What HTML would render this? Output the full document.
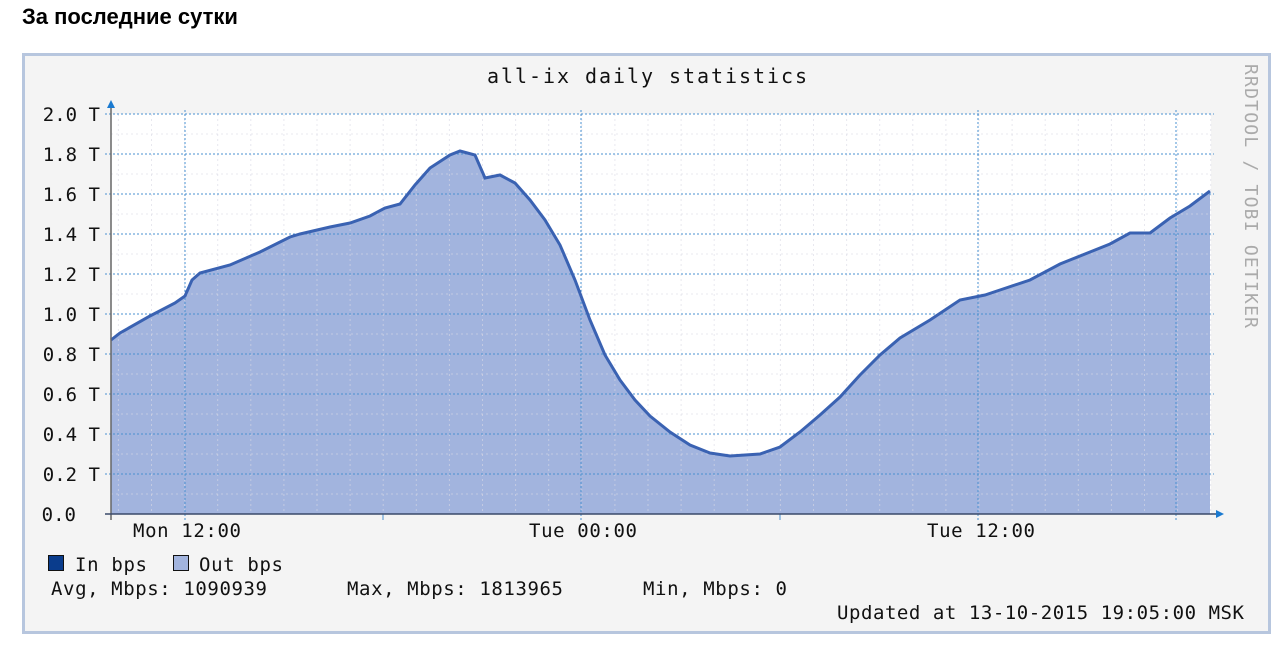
<!DOCTYPE html>
<html><head><meta charset="utf-8"><style>
body{margin:0;background:#fff;width:1288px;height:654px;overflow:hidden}
h1{position:absolute;left:22px;top:4px;margin:0;font:bold 22px "Liberation Sans","Noto Sans CJK SC",sans-serif;color:#000}
svg{position:absolute;left:0;top:0}
text{font-family:"DejaVu Sans Mono","Liberation Mono",monospace;font-size:19px;fill:#111}
</style></head><body>
<h1>За последние сутки</h1>
<svg width="1288" height="654" xmlns="http://www.w3.org/2000/svg">
<rect x="23.5" y="54.5" width="1246" height="578" fill="#f4f4f4" stroke="#b7c6de" stroke-width="3"/>
<rect x="111" y="114" width="1100" height="400" fill="#fff"/>
<polygon fill="#a2b4de" points="111,514 111,340 120,333 150,316 175,303 185,296 192,280 200,273 230,265 260,252 290,237 300,234 330,227 350,223 370,216 385,208 400,204 415,185 430,168 450,155 460,151 475,155 485,178 500,175 515,183 530,200 545,220 560,245 575,280 590,320 605,355 620,380 635,400 650,416 670,432 690,445 710,453 730,456 760,454 780,447 800,432 820,415 840,397 860,375 880,355 900,338 930,320 960,300 985,295 1000,290 1030,280 1060,264 1090,252 1110,244 1130,233 1150,233 1170,218 1190,206 1210,191 1210,514"/>
<g id="grid2"></g>
<polyline fill="none" stroke="#3a62b2" stroke-width="3" points="111,340 120,333 150,316 175,303 185,296 192,280 200,273 230,265 260,252 290,237 300,234 330,227 350,223 370,216 385,208 400,204 415,185 430,168 450,155 460,151 475,155 485,178 500,175 515,183 530,200 545,220 560,245 575,280 590,320 605,355 620,380 635,400 650,416 670,432 690,445 710,453 730,456 760,454 780,447 800,432 820,415 840,397 860,375 880,355 900,338 930,320 960,300 985,295 1000,290 1030,280 1060,264 1090,252 1110,244 1130,233 1150,233 1170,218 1190,206 1210,191"/>
<line x1="111" y1="108" x2="111" y2="520" stroke="#666" stroke-width="1.5"/>
<line x1="105" y1="514" x2="1216" y2="514" stroke="#3a4a6a" stroke-width="1.5"/>
<polygon points="107,108 115,108 111,100" fill="#1a7ad0"/>
<polygon points="1216,510 1216,518 1224,514" fill="#1a7ad0"/>
<text x="647" y="83" text-anchor="middle" textLength="320" style="font-size:20px">all-ix daily statistics</text>
<g text-anchor="end">
<text x="100" y="121">2.0 T</text><text x="100" y="161">1.8 T</text><text x="100" y="201">1.6 T</text><text x="100" y="241">1.4 T</text><text x="100" y="281">1.2 T</text><text x="100" y="321">1.0 T</text><text x="100" y="361">0.8 T</text><text x="100" y="401">0.6 T</text><text x="100" y="441">0.4 T</text><text x="100" y="481">0.2 T</text><text x="76" y="521">0.0</text>
</g>
<text x="133" y="537" textLength="108">Mon 12:00</text>
<text x="529" y="537" textLength="108">Tue 00:00</text>
<text x="927" y="537" textLength="108">Tue 12:00</text>
<rect x="48.5" y="555.5" width="15" height="15" fill="#0a3c8c" stroke="#111"/>
<text x="75" y="571" textLength="72">In bps</text>
<rect x="173.5" y="555.5" width="15" height="15" fill="#a2b4de" stroke="#111"/>
<text x="199" y="571" textLength="84">Out bps</text>
<text x="51" y="595" textLength="216">Avg, Mbps: 1090939</text>
<text x="347" y="595" textLength="216">Max, Mbps: 1813965</text>
<text x="643" y="595" textLength="144">Min, Mbps: 0</text>
<text x="837" y="619" textLength="407">Updated at 13-10-2015 19:05:00 MSK</text>
<text transform="translate(1245,64) rotate(90)" style="fill:#aaa;font-size:18px" textLength="264">RRDTOOL / TOBI OETIKER</text>
</svg>
<script>
(function(){
var g=document.getElementById('grid2'),h='';
for(var i=0;i<34;i++){var x=118.4+i*33.1;if(x>1211)break;h+='<line x1="'+x+'" y1="114" x2="'+x+'" y2="514" stroke="#d8d8e4" stroke-opacity="0.6" stroke-dasharray="2,3"/>';}
for(var y=134;y<514;y+=40)h+='<line x1="111" y1="'+y+'" x2="1211" y2="'+y+'" stroke="#d8d8e4" stroke-opacity="0.6" stroke-dasharray="2,3"/>';
for(var y=114;y<514;y+=40)h+='<line x1="105" y1="'+y+'" x2="1214" y2="'+y+'" stroke="#4a90d0" stroke-dasharray="2,2"/>';
var xs=[185,581,978,1176];
for(var k=0;k<xs.length;k++){var x=xs[k];h+='<line x1="'+x+'" y1="110" x2="'+x+'" y2="520" stroke="#4a90d0" stroke-dasharray="2,2"/>';}
var t=[383,780];for(var k=0;k<2;k++)h+='<line x1="'+t[k]+'" y1="514" x2="'+t[k]+'" y2="520" stroke="#4a90d0"/>';
g.innerHTML=h;
})();
</script>
</body></html>
